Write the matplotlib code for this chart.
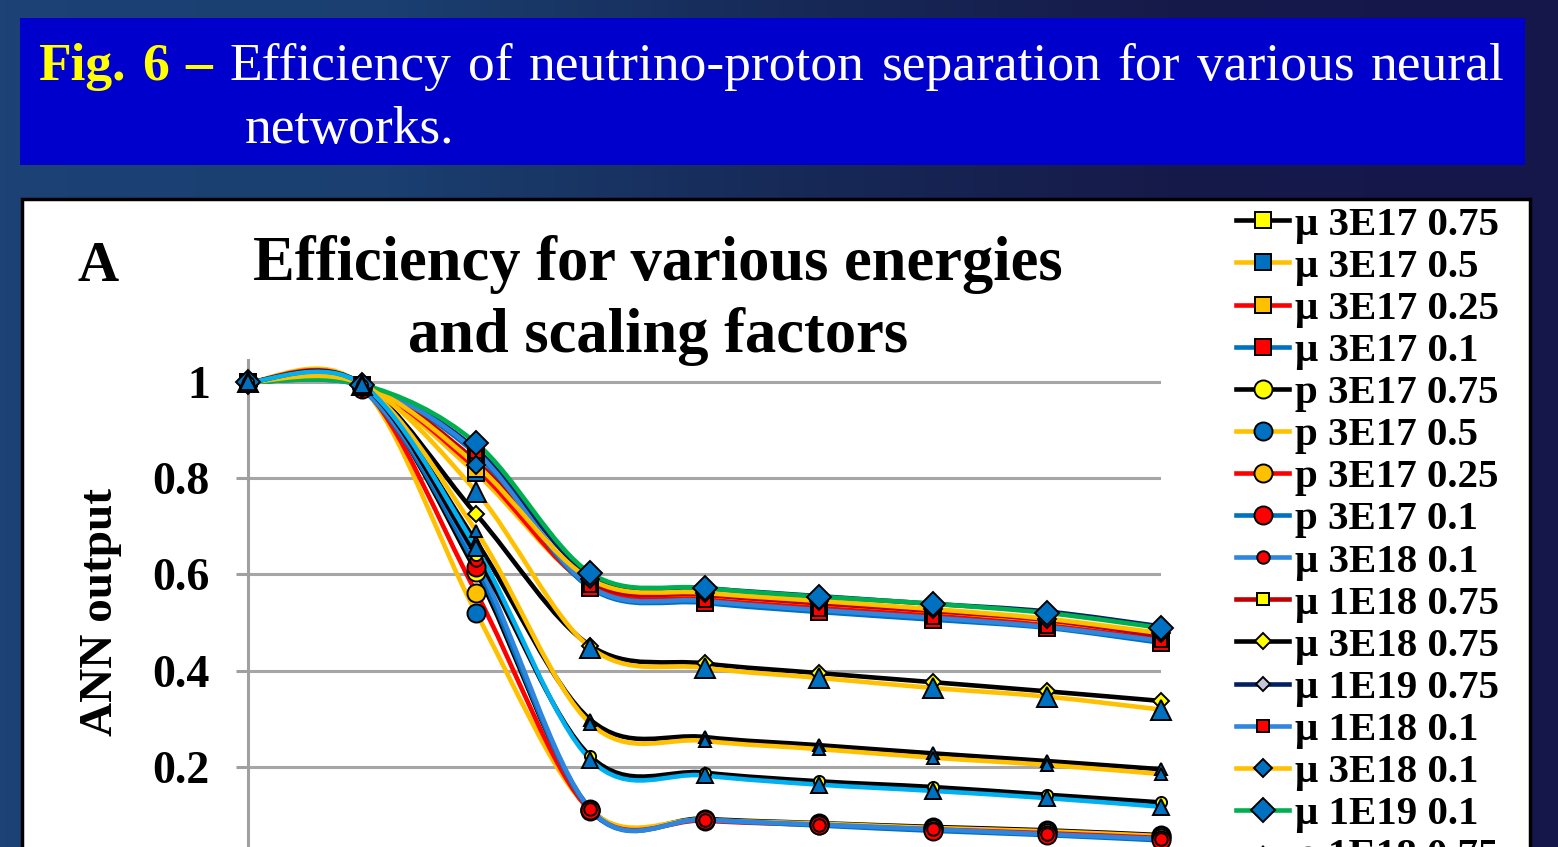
import numpy as np
import matplotlib
matplotlib.use("Agg")
import matplotlib.pyplot as plt
from matplotlib.path import Path
from matplotlib.patches import PathPatch, Rectangle
from matplotlib.lines import Line2D
from matplotlib.colors import LinearSegmentedColormap

W, H = 1558, 847
SERIF = "Liberation Serif"

# --- data (ANN output at 9 steps) ---
steps = [0, 1, 2, 3, 4, 5, 6, 7, 8]

mu_3e17_075 = [1, 0.995, 0.813, 0.580, 0.553, 0.535, 0.520, 0.500, 0.470]
mu_3e17_05 = [1, 0.995, 0.810, 0.578, 0.551, 0.533, 0.517, 0.497, 0.467]
mu_3e17_025 = [1, 0.995, 0.820, 0.576, 0.548, 0.530, 0.514, 0.494, 0.464]
mu_3e17_01 = [1, 0.993, 0.850, 0.572, 0.541, 0.522, 0.506, 0.489, 0.458]
p_3e17_075 = [1, 0.990, 0.605, 0.113, 0.092, 0.083, 0.075, 0.068, 0.058]
p_3e17_05 = [1, 0.990, 0.520, 0.110, 0.090, 0.082, 0.073, 0.066, 0.056]
p_3e17_025 = [1, 0.990, 0.562, 0.108, 0.088, 0.079, 0.070, 0.062, 0.052]
p_3e17_01 = [1, 0.985, 0.616, 0.110, 0.090, 0.078, 0.067, 0.058, 0.047]
mu_3e18_01_b = [1, 0.985, 0.630, 0.112, 0.090, 0.080, 0.070, 0.060, 0.050]
mu_1e18_075 = [1, 0.995, 0.835, 0.585, 0.558, 0.540, 0.524, 0.505, 0.472]
mu_3e18_075 = [1, 0.995, 0.725, 0.452, 0.415, 0.395, 0.376, 0.357, 0.337]
mu_1e19_075 = [1, 0.995, 0.860, 0.598, 0.572, 0.555, 0.539, 0.523, 0.492]
mu_1e18_01 = [1, 0.993, 0.855, 0.575, 0.545, 0.526, 0.510, 0.491, 0.462]
mu_3e18_01 = [1, 0.995, 0.828, 0.590, 0.562, 0.545, 0.528, 0.508, 0.478]
mu_1e19_01 = [1, 0.995, 0.873, 0.603, 0.572, 0.554, 0.539, 0.520, 0.489]
p_1e18_075 = [1, 0.995, 0.668, 0.298, 0.262, 0.245, 0.228, 0.212, 0.195]
p_3e18_075 = [1, 0.995, 0.772, 0.448, 0.406, 0.385, 0.364, 0.346, 0.319]
p_1e19_075 = [1, 0.995, 0.690, 0.290, 0.254, 0.237, 0.219, 0.204, 0.185]
p_1e18_01 = [1, 0.995, 0.640, 0.222, 0.188, 0.170, 0.158, 0.142, 0.126]
p_3e18_01 = [1, 0.995, 0.655, 0.215, 0.182, 0.163, 0.150, 0.135, 0.117]

series_labels = ["μ 3E17 0.75", "μ 3E17 0.5", "μ 3E17 0.25", "μ 3E17 0.1",
                 "p 3E17 0.75", "p 3E17 0.5", "p 3E17 0.25", "p 3E17 0.1",
                 "μ 3E18 0.1", "μ 1E18 0.75", "μ 3E18 0.75", "μ 1E19 0.75",
                 "μ 1E18 0.1", "μ 3E18 0.1", "μ 1E19 0.1",
                 "p 1E18 0.75", "p 3E18 0.75", "p 1E19 0.75", "p 1E18 0.1", "p 3E18 0.1"]
series_values = [mu_3e17_075, mu_3e17_05, mu_3e17_025, mu_3e17_01,
                 p_3e17_075, p_3e17_05, p_3e17_025, p_3e17_01,
                 mu_3e18_01_b, mu_1e18_075, mu_3e18_075, mu_1e19_075,
                 mu_1e18_01, mu_3e18_01, mu_1e19_01,
                 p_1e18_075, p_3e18_075, p_1e19_075, p_1e18_01, p_3e18_01]
y_ticks = [0, 0.2, 0.4, 0.6, 0.8, 1]
y_tick_labels = ["0", "0.2", "0.4", "0.6", "0.8", "1"]

# styles: line colour, marker, marker face, marker size
YEL, BLU, GOLD, RED = "#FFFF00", "#0070C0", "#FFC000", "#FF0000"
styles = [("black", "s", YEL, 12), (GOLD, "s", BLU, 12), (RED, "s", GOLD, 12), (BLU, "s", RED, 12),
          ("black", "o", YEL, 13), (GOLD, "o", BLU, 13), (RED, "o", GOLD, 13), (BLU, "o", RED, 13),
          ("#2E86DE", "o", RED, 9), ("#C00000", "s", YEL, 9), ("black", "D", YEL, 8), ("#002060", "D", "#C4C4DC", 7),
          ("#2E86DE", "s", RED, 9), (GOLD, "D", BLU, 9), ("#00B050", "D", BLU, 12),
          ("black", "^", BLU, 9), (GOLD, "^", BLU, 14), (GOLD, "^", BLU, 9), ("black", "o", YEL, 8), ("#00B0F0", "^", BLU, 11)]


def smooth_path(xs, ys):
    # excel-style smoothed line (catmull-rom as cubic bezier)
    pts = np.column_stack([xs, ys]).astype(float)
    n = len(pts)
    verts = [pts[0]]
    codes = [Path.MOVETO]
    for i in range(n - 1):
        p0, p1 = pts[max(i - 1, 0)], pts[i]
        p2, p3 = pts[i + 1], pts[min(i + 2, n - 1)]
        verts += [p1 + (p2 - p0) / 6, p2 - (p3 - p1) / 6, p2]
        codes += [Path.CURVE4] * 3
    return Path(verts, codes)


fig = plt.figure(figsize=(W / 100, H / 100), dpi=100)

# background slide
bg = fig.add_axes([0, 0, 1, 1])
bg.set_xlim(0, W)
bg.set_ylim(H, 0)
bg.axis("off")
cmap = LinearSegmentedColormap.from_list("slide", ["#1c4276", "#1a3f70", "#172a58", "#161a4a", "#15164a"])
bg.imshow(np.linspace(0, 1, 256)[None, :], aspect="auto", cmap=cmap, extent=[0, W, H, 0], zorder=0)
bg.add_patch(Rectangle((20, 18), 1505, 147, facecolor="#0000CC", edgecolor="none", zorder=1))
bg.add_patch(Rectangle((22, 199), 1508, 700, facecolor="white", edgecolor="black", lw=2.5, zorder=1))

# justified caption, first line
tokens = [("Fig.", YEL, "bold"), ("6", YEL, "bold"), ("–", YEL, "bold"),
          ("Efficiency", "white", "normal"), ("of", "white", "normal"), ("neutrino-proton", "white", "normal"),
          ("separation", "white", "normal"), ("for", "white", "normal"), ("various", "white", "normal"),
          ("neural", "white", "normal")]
renderer = fig.canvas.get_renderer()
words = []
for txt, col, wt in tokens:
    t = bg.text(0, 80, txt, color=col, fontsize=38.5, fontweight=wt, family=SERIF, va="baseline", zorder=2)
    words.append(t)
widths = [t.get_window_extent(renderer).width for t in words]
gap = (1505 - 38 - sum(widths)) / (len(words) - 1)
x = 38
for t, w in zip(words, widths):
    t.set_x(x)
    x += w + gap
bg.text(245, 143, "networks.", color="white", fontsize=38.5, family=SERIF, va="baseline", zorder=2)

# chart titles
bg.text(78, 281, "A", fontsize=41, fontweight="bold", family=SERIF, va="baseline", zorder=2)
bg.text(658, 280, "Efficiency for various energies", fontsize=45, fontweight="bold", family=SERIF,
        ha="center", va="baseline", zorder=2)
bg.text(658, 352, "and scaling factors", fontsize=45, fontweight="bold", family=SERIF,
        ha="center", va="baseline", zorder=2)

# plot area
ax = fig.add_axes([248 / W, (H - 863) / H, (1161 - 248) / W, (863 - 360) / H])
ax.set_facecolor("none")
ax.set_xlim(0, 8)
ax.set_ylim(0, 1.046)
ax.set_xticks([])
ax.set_yticks(y_ticks)
ax.set_yticklabels(y_tick_labels, fontsize=33, fontweight="bold", family=SERIF)
for s in ["top", "right", "bottom"]:
    ax.spines[s].set_visible(False)
ax.spines["left"].set_color("#A0A0A0")
ax.spines["left"].set_linewidth(2.2)
ax.tick_params(axis="y", direction="out", length=8.5, width=2.2, color="#A0A0A0", pad=19)
ax.yaxis.grid(True, color="#A6A6A6", lw=2.2)
ax.set_axisbelow(True)
ax.set_ylabel("ANN output", fontsize=34, fontweight="bold", family=SERIF, labelpad=22)

handles = []
for vals, (lc, m, fc, ms) in zip(series_values, styles):
    ax.add_patch(PathPatch(smooth_path(steps, vals), facecolor="none", edgecolor=lc, lw=3.3,
                           capstyle="round", joinstyle="round", zorder=2, clip_on=False))
for vals, (lc, m, fc, ms) in zip(series_values, styles):
    ax.plot(steps, vals, linestyle="none", marker=m, markersize=ms, markerfacecolor=fc,
            markeredgecolor="black", markeredgewidth=1.4, zorder=3, clip_on=False)
    handles.append(Line2D([0], [0], color=lc, lw=3.3, marker=m, markersize=ms, markerfacecolor=fc,
                          markeredgecolor="black", markeredgewidth=1.4))

fig.legend(handles, series_labels, loc="upper left", bbox_to_anchor=(1236 / W, 1 - 206 / H),
           frameon=False, prop={"family": SERIF, "weight": "bold", "size": 29.5},
           handlelength=1.3, handletextpad=0.15, labelspacing=0.108, borderpad=0, borderaxespad=0)

fig.savefig("out.png", dpi=100)
